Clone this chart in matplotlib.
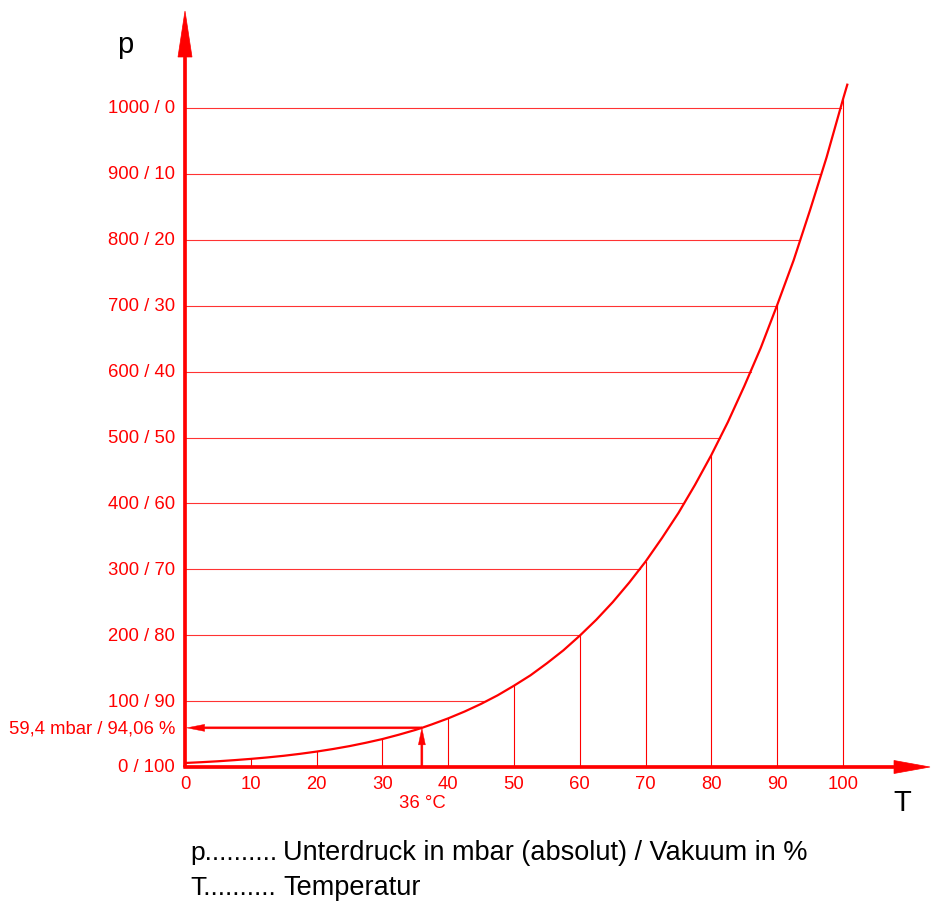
import numpy as np
import matplotlib.pyplot as plt

plt.rcParams["font.family"] = ["Liberation Sans", "DejaVu Sans"]

RED = "#ff0000"

# vapour pressure curve, T in degC, p in mbar
curve_T = [0, 2.5, 5, 7.5, 10, 12.5, 15, 17.5, 20, 22.5, 25, 27.5, 30,
           32.5, 35, 36, 37.5, 40, 42.5, 45, 47.5, 50, 52.5, 55, 57.5, 60,
           62.5, 65, 67.5, 70, 72.5, 75, 77.5, 80, 82.5, 85, 87.5, 90,
           92.5, 95, 97.5, 100, 100.7]
curve_p = [6.1, 7.3, 8.7, 10.4, 12.3, 14.5, 17.0, 20.0, 23.4, 27.3, 31.7,
           36.8, 42.4, 49.0, 56.2, 59.4, 64.6, 73.8, 84.2, 95.8, 108.7,
           123.4, 139.1, 157.4, 177.0, 199.3, 223.4, 250.1, 279.7, 311.8,
           347.6, 385.6, 428.0, 473.6, 523.3, 578.0, 636.0, 701.1, 769.0,
           845.3, 925.0, 1013.3, 1037.0]

x_ticks = [0, 10, 20, 30, 40, 50, 60, 70, 80, 90, 100]
y_ticks = [0, 100, 200, 300, 400, 500, 600, 700, 800, 900, 1000]
y_labels = ["0 / 100", "100 / 90", "200 / 80", "300 / 70", "400 / 60",
            "500 / 50", "600 / 40", "700 / 30", "800 / 20", "900 / 10",
            "1000 / 0"]

mark_T = 36
mark_p = 59.4
mark_label = "59,4 mbar / 94,06 %"
mark_T_label = "36 °C"

legend_rows = [("p..........", "Unterdruck in mbar (absolut) / Vakuum in %"),
               ("T..........", "Temperatur")]

# pixel scale of the original drawing
W, H = 931, 903
x0_px, y0_px = 185, 768
px_T = 6.58      # pixels per degC
px_p = 0.659     # pixels per mbar

fig = plt.figure(figsize=(W / 100, H / 100), dpi=100)
ax = fig.add_axes([0, 0, 1, 1])
ax.set_xlim(-x0_px / px_T, (W - x0_px) / px_T)
ax.set_ylim(-(H - y0_px) / px_p, y0_px / px_p)
ax.axis("off")

# grid lines up to the curve
for p in y_ticks[1:]:
    t_end = np.interp(p, curve_p, curve_T)
    ax.plot([0, t_end], [p, p], color=RED, lw=0.8, alpha=0.8)
for t in x_ticks[1:]:
    p_end = np.interp(t, curve_T, curve_p)
    ax.plot([t, t], [0, p_end], color=RED, lw=0.8)

ax.plot(curve_T, curve_p, color=RED, lw=1.6, solid_capstyle="butt")

# axes with arrows
x_tip = (930 - x0_px) / px_T
y_tip = (y0_px - 12) / px_p
ax.arrow(0, 0, 0, y_tip, width=3 / px_T, head_width=14 / px_T,
         head_length=46 / px_p, length_includes_head=True,
         color=RED, lw=0.5)
ax.arrow(-0.2, 0, x_tip + 0.2, 0, width=3 / px_p, head_width=13 / px_p,
         head_length=36 / px_T, length_includes_head=True,
         color=RED, lw=0.5)

# reading arrows for 36 degC
ax.arrow(mark_T, mark_p, -mark_T + 0.25, 0, width=2 / px_p,
         head_width=7 / px_p, head_length=18 / px_T,
         length_includes_head=True, color=RED, lw=0.3)
ax.arrow(mark_T, 0, 0, mark_p, width=2 / px_T, head_width=7 / px_T,
         head_length=17 / px_p, length_includes_head=True,
         color=RED, lw=0.3)

# tick labels
lab_x = -10 / px_T
for p, lab in zip(y_ticks, y_labels):
    ax.text(lab_x, p, lab, color=RED, fontsize=13.3, ha="right", va="center")
ax.text(lab_x, mark_p, mark_label, color=RED, fontsize=13.3,
        ha="right", va="center")
for t in x_ticks:
    ax.text(t, -17 / px_p, str(t), color=RED, fontsize=13.3,
            ha="center", va="center")
ax.text(mark_T, -36 / px_p, mark_T_label, color=RED, fontsize=13.3,
        ha="center", va="center")

# axis names
ax.text((125 - x0_px) / px_T, (y0_px - 45) / px_p, "p", fontsize=21,
        ha="center", va="center")
ax.text((902 - x0_px) / px_T, (y0_px - 803) / px_p, "T", fontsize=21,
        ha="center", va="center")

# legend text below
for i, (sym, desc) in enumerate(legend_rows):
    y = (y0_px - 853 - 35 * i) / px_p
    ax.text((190 - x0_px) / px_T, y, sym, fontsize=19, ha="left", va="center")
    ax.text((283 - x0_px) / px_T, y, desc, fontsize=19.5, ha="left",
            va="center")

fig.savefig("out.png", dpi=100)
